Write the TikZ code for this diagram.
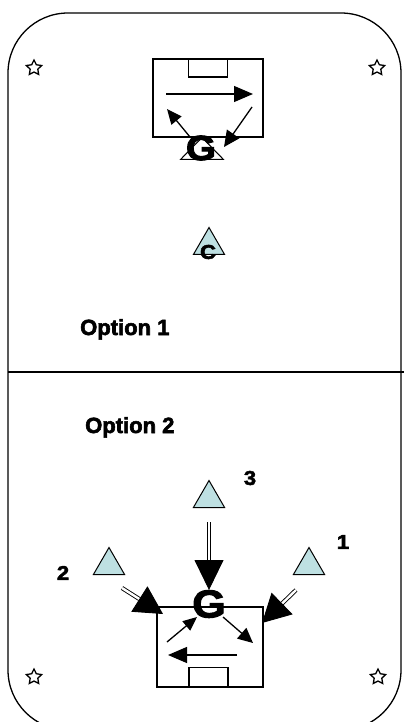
\documentclass[tikz,border=0pt]{standalone}
\usepackage{fontspec}
\newfontfamily\drillfont[FakeBold=2.6]{Liberation Sans}
\usetikzlibrary{arrows.meta,shapes.geometric}

\tikzset{
	cone/.style={isosceles triangle, isosceles triangle apex angle=60, shape border rotate=90, draw, line width=1pt, fill=conefill, inner sep=0pt, minimum height=27pt, anchor=south},
	marker/.style={star, star points=5, star point ratio=2.0, draw, line width=1.3pt, minimum size=16pt, inner sep=0pt},
	goal/.style={rectangle, draw, line width=1.2pt, inner sep=0pt},
	letter/.style={font=\drillfont\bfseries, inner sep=0pt},
	move/.style={line width=1.3pt},
	pass/.style={double, double distance=2.4pt, line width=0.9pt}
}
\definecolor{conefill}{RGB}{190,224,226}
\newcommand{\wide}[1]{\scalebox{1.1}[1]{#1}}

\begin{document}
\begin{tikzpicture}[x=1pt, y=-1pt]
		\useasboundingbox (0,0) rectangle (404,722);
		\clip (0,0) rectangle (404,722);
		\draw[line width=1.3pt, rounded corners=60pt] (8,13) rectangle (401,730);
		\draw[line width=1.2pt] (8,372) -- (404,372);

		% corner markers
		\node[marker] (mTL) at (34,68) {};
		\node[marker] (mTR) at (377,68) {};
		\node[marker] (mBL) at (34,677) {};
		\node[marker] (mBR) at (378,677) {};

		% option 1
		\node[goal, minimum width=110pt, minimum height=78pt] (goalA) at (208,98) {};
		\node[goal, minimum width=39pt, minimum height=18pt, anchor=north] (boxA) at (goalA.north) {};
		\node[cone, fill=white, isosceles triangle stretches, minimum width=43pt, minimum height=22pt] (keeperA) at (202,160) {};
		\node[letter, font=\drillfont\bfseries\fontsize{35}{35}\selectfont] (GA) at (201,148) {\wide{G}};
		\node[cone, minimum width=29pt] (coach) at (209,255) {};
		\node[letter, font=\drillfont\bfseries\fontsize{20}{20}\selectfont] (C) at (208,252) {\wide{C}};
		\node[letter, anchor=base west, font=\drillfont\bfseries\fontsize{22}{22}\selectfont] (opt1) at (80,335) {Option 1};

		\coordinate (a1s) at (166,94);
		\coordinate (a1e) at (253,94);
		\coordinate (a2s) at (190,137);
		\coordinate (a2e) at (167,109);
		\coordinate (a3s) at (252,107);
		\coordinate (a3e) at (224,147);
		\draw[move, -{Triangle[length=19pt,width=16pt]}] (a1s) -- (a1e);
		\draw[move, -{Triangle[length=15pt,width=13pt]}] (a2s) -- (a2e);
		\draw[move, -{Triangle[length=16pt,width=15pt]}] (a3s) -- (a3e);

		% option 2
		\node[letter, anchor=base west, font=\drillfont\bfseries\fontsize{22}{22}\selectfont] (opt2) at (85,433) {Option 2};
		\node[cone, minimum width=29pt] (p3) at (209,508) {};
		\node[cone, minimum width=29pt] (p2) at (109,575) {};
		\node[cone, minimum width=29pt] (p1) at (309,575) {};
		\node[letter, font=\drillfont\bfseries\fontsize{20}{20}\selectfont] (n3) at (250,478) {\wide{3}};
		\node[letter, font=\drillfont\bfseries\fontsize{20}{20}\selectfont] (n2) at (63,573) {\wide{2}};
		\node[letter, font=\drillfont\bfseries\fontsize{20}{20}\selectfont] (n1) at (343,542) {\wide{1}};

		\node[goal, minimum width=106pt, minimum height=80pt] (goalB) at (210,647) {};
		\node[goal, minimum width=39pt, minimum height=19pt, anchor=south] (boxB) at (208.5,687) {};
		\node[letter, font=\drillfont\bfseries\fontsize{39}{39}\selectfont] (GB) at (209,604) {\wide{G}};

		\coordinate (p3s) at (209,522);
		\coordinate (p3e) at (209,590);
		\coordinate (p2s) at (122,588);
		\coordinate (p2e) at (163,614);
		\coordinate (p1s) at (296,590);
		\coordinate (p1e) at (262,623);
		\draw[pass, -{Triangle[length=30pt,width=29pt]}] (p3s) -- (p3e);
		\draw[pass, -{Triangle[length=28pt,width=30pt]}] (p2s) -- (p2e);
		\draw[pass, -{Triangle[length=28pt,width=30pt]}] (p1s) -- (p1e);

		\coordinate (b1s) at (167,642);
		\coordinate (b1e) at (197,617);
		\coordinate (b2s) at (223,617);
		\coordinate (b2e) at (253,643);
		\coordinate (b3s) at (237,655);
		\coordinate (b3e) at (168,655);
		\draw[move, -{Triangle[length=14pt,width=12pt]}] (b1s) -- (b1e);
		\draw[move, -{Triangle[length=15pt,width=14pt]}] (b2s) -- (b2e);
		\draw[move, -{Triangle[length=19pt,width=16pt]}] (b3s) -- (b3e);
	\end{tikzpicture}
\end{document}
